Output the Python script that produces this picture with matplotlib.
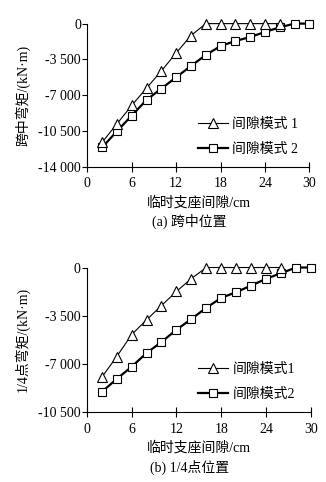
import matplotlib
matplotlib.use("Agg")
import matplotlib.pyplot as plt
from matplotlib.ticker import FuncFormatter

plt.rcParams['font.family'] = ['Liberation Serif', 'Noto Sans CJK SC']
plt.rcParams['axes.unicode_minus'] = False

gap = [2, 4, 6, 8, 10, 12, 14, 16, 18, 20, 22, 24, 26, 28, 30]

# (a) mid-span moment
mid_mode1 = [-11600, -9800, -8000, -6300, -4630, -2870, -1170, 0, 0, 0, 0, 0, 0, None, None]
mid_mode2 = [-12100, -10520, -8990, -7460, -6350, -5250, -4140, -3070, -2190, -1700, -1310, -820, -360, 0, 0]

# (b) quarter-point moment
qtr_mode1 = [-7980, -6480, -4880, -3800, -2760, -1740, -800, 0, 0, 0, 0, 0, 0, None, None]
qtr_mode2 = [-9040, -8100, -7210, -6210, -5410, -4520, -3740, -2920, -2200, -1790, -1310, -820, -410, 0, 0]

xticks = [0, 6, 12, 18, 24, 30]
xlabel_txt = '临时支座间隙/cm'


def fmt(v, pos):
    v = int(round(v))
    if v == 0:
        return '0'
    s = '{:,}'.format(abs(v)).replace(',', ' ')
    return '-' + s


def draw(ax, y1, y2, ymin, yticks, ylabel, caption, lab1, lab2):
    x1 = [x for x, y in zip(gap, y1) if y is not None]
    v1 = [y for y in y1 if y is not None]
    ax.plot(x1, v1, color='black', lw=0.8, marker='^', ms=6.5,
            mfc='white', mec='black', mew=0.8, label=lab1, zorder=3, clip_on=False)
    ax.plot(gap, y2, color='black', lw=1.6, marker='s', ms=6,
            mfc='white', mec='black', mew=0.8, label=lab2, zorder=2, clip_on=False)
    ax.set_xlim(0, 30)
    ax.set_ylim(ymin, 0)
    ax.set_xticks(xticks)
    ax.set_yticks(yticks)
    ax.yaxis.set_major_formatter(FuncFormatter(fmt))
    for s in ['top', 'right']:
        ax.spines[s].set_visible(False)
    ax.spines['left'].set_linewidth(0.8)
    ax.spines['bottom'].set_linewidth(0.8)
    ax.tick_params(axis='x', direction='inout', length=7, width=0.8, labelsize=10, pad=4)
    ax.tick_params(axis='y', direction='out', length=3.5, width=0.8, labelsize=10, pad=1)
    ax.set_ylabel(ylabel, fontsize=10, labelpad=6)
    ax.set_xlabel(xlabel_txt, fontsize=10, labelpad=4)
    ax.text(0.46, -0.38, caption, transform=ax.transAxes, ha='center', va='center', fontsize=10)
    ax.legend(loc='lower left', bbox_to_anchor=(0.44, -0.01), frameon=False, fontsize=10,
              handlelength=2.2, handletextpad=0.3, labelspacing=0.85)


fig = plt.figure(figsize=(3.26, 4.82), dpi=100)
ax1 = fig.add_axes([0.268, 0.654, 0.681, 0.297])
ax2 = fig.add_axes([0.266, 0.145, 0.688, 0.300])

draw(ax1, mid_mode1, mid_mode2, -14000, [0, -3500, -7000, -10500, -14000],
     '跨中弯矩/(kN·m)', '(a) 跨中位置', '间隙模式 1', '间隙模式 2')
draw(ax2, qtr_mode1, qtr_mode2, -10500, [0, -3500, -7000, -10500],
     '1/4点弯矩/(kN·m)', '(b) 1/4点位置', '间隙模式1', '间隙模式2')

fig.savefig('out.png', dpi=100)
